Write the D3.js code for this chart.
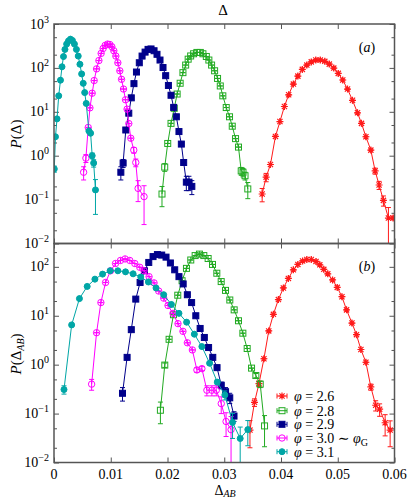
<!DOCTYPE html>
<html>
<head>
<meta charset="utf-8">
<script src="https://cdn.jsdelivr.net/npm/d3@7"></script>
<style>
body { margin: 0; background: #fff; }
svg text { font-family: "Liberation Serif", "DejaVu Serif", serif; fill: #000; }
</style>
</head>
<body>
<svg id="chart" width="415" height="498" font-family="Liberation Serif, DejaVu Serif, serif"></svg>
<script>
// tick values / labels
var xTicks = [0, 0.01, 0.02, 0.03, 0.04, 0.05, 0.06];
var xTickLabels = ["0", "0.01", "0.02", "0.03", "0.04", "0.05", "0.06"];
var yTicksA = [1e-2, 1e-1, 1e0, 1e1, 1e2, 1e3];
var yTicksB = [1e-2, 1e-1, 1e0, 1e1, 1e2];
var yExpA = ["−2", "−1", "0", "1", "2", "3"];
var yExpB = ["−2", "−1", "0", "1", "2"];
var phiLabels = ["2.6", "2.8", "2.9", "3.0", "3.1"];

// panel (a): P(Delta)   [Delta, P, error]
var a26 = [[0.03668,0.134,0.045],[0.03738,0.325,0.07],[0.03814,0.63,0],[0.03902,2.75,0],[0.03981,6.0,0],[0.04060,13.2,0],[0.04135,24.4,0],[0.04218,42.8,0],[0.04297,65,0],[0.04376,92.5,0],[0.04455,116,0],[0.04534,137,0],[0.04613,151,0],[0.04692,151,0],[0.04772,141,0],[0.04851,122,0],[0.04930,99,0],[0.05009,75,0],[0.05088,53,0],[0.05172,33,0],[0.05260,18.3,0],[0.05348,9.5,0],[0.05418,5.45,0],[0.05496,2.7,0],[0.05583,1.34,0],[0.05659,0.45,0.07],[0.05729,0.215,0.045],[0.05805,0.096,0.025],[0.05893,0.038,0.028],[0.05975,0.038,0]];
var a28 = [[0.01903,0.134,0.065],[0.01951,0.55,0.11],[0.02004,1.9,0],[0.02062,5.45,0],[0.02118,12.0,0],[0.02170,25.4,0],[0.02223,44.7,0],[0.02272,78,0],[0.02320,116,0],[0.02364,158,0],[0.02408,187,0],[0.02460,210,0],[0.02518,225,0],[0.02578,225,0],[0.02624,210,0],[0.02684,182,0],[0.02729,151,0],[0.02777,116,0],[0.02830,86,0],[0.02882,57.5,0],[0.02930,38.8,0],[0.02975,23.1,0],[0.03035,12.5,0],[0.03093,7.7,0],[0.03141,4.7,0],[0.03199,2.45,0],[0.03251,1.57,0],[0.03299,0.45,0.09],[0.03330,0.42,0.09],[0.03366,0.35,0.07],[0.03415,0.175,0.07]];
var a29 = [[0.01178,0.42,0.14],[0.01218,0.68,0.14],[0.01265,3.85,0],[0.01318,9.3,0],[0.01362,20.8,0],[0.01409,43.8,0],[0.01453,80.5,0],[0.01503,131,0],[0.01552,186,0],[0.01605,229,0],[0.01657,264,0],[0.01710,270,0],[0.01763,246,0],[0.01815,204,0],[0.01868,151,0],[0.01921,102,0],[0.01968,66.5,0],[0.02016,39.8,0],[0.02062,23.8,0],[0.02109,12.6,0],[0.02156,7.7,0],[0.02202,3.55,0],[0.02244,1.84,0],[0.02285,0.70,0.1],[0.02332,0.25,0.09],[0.02378,0.25,0.09],[0.02429,0.20,0.07]];
var a30 = [[0.00522,0.42,0.14],[0.00562,0.88,0.18],[0.00603,4.4,0],[0.00633,12.3,0],[0.00673,26.5,0],[0.00708,51.5,0],[0.00750,95,0],[0.00791,147,0],[0.00831,214,0],[0.00866,277,0],[0.00902,326,0],[0.00944,349,0],[0.00984,341,0],[0.01019,304,0],[0.01054,246,0],[0.01090,186,0],[0.01125,131,0],[0.01160,86,0],[0.01190,55,0],[0.01225,33,0],[0.01260,18.8,0],[0.01288,11.5,0],[0.01318,5.4,0],[0.01353,2.5,0],[0.01406,1.34,0.2],[0.01441,0.70,0.14],[0.01482,0.18,0.09],[0.01587,0.117,0.09]];
var a31 = [[0.00005,0.50,0.08],[0.00026,2.7,0],[0.00053,6.9,0],[0.00083,23.1,0],[0.00114,52.5,0],[0.00141,106,0],[0.00167,181,0],[0.00193,264,0],[0.00223,349,0],[0.00255,411,0],[0.00290,452,0],[0.00325,421,0],[0.00360,349,0],[0.00395,264,0],[0.00427,186,0],[0.00457,121,0],[0.00487,73,0],[0.00515,44.5,0],[0.00541,27.4,0],[0.00568,15.5,0],[0.00615,3.65,0],[0.00645,3.25,0],[0.00673,1.0,0.15],[0.00699,0.68,0.13],[0.00731,0.166,0.12]];

// panel (b): P(Delta_AB)   [Delta_AB, P, error]
var b26 = [[0.03453,0.046,0.026],[0.03533,0.17,0.03],[0.03612,0.41,0.05],[0.03699,1.32,0],[0.03784,4.9,0],[0.03866,10.7,0],[0.03954,21.4,0],[0.04042,37,0],[0.04130,58,0],[0.04218,87,0],[0.04297,112,0],[0.04381,132,0],[0.04455,141,0],[0.04534,141,0],[0.04617,129,0],[0.04684,110,0],[0.04754,89,0],[0.04824,72,0],[0.04909,54,0],[0.04991,38,0],[0.05074,24.5,0],[0.05155,13.2,0],[0.05250,7.1,0],[0.05330,4.1,0],[0.05408,2.04,0],[0.05496,1.12,0],[0.05583,0.35,0.05],[0.05668,0.148,0.035],[0.05738,0.123,0.035],[0.05835,0.065,0.03],[0.05923,0.046,0.025]];
var b28 = [[0.01875,0.117,0.055],[0.01952,0.98,0.1],[0.02028,3.3,0],[0.02105,10.5,0],[0.02181,26.3,0],[0.02257,52,0],[0.02334,93,0],[0.02410,138,0],[0.02487,170,0],[0.02563,182,0],[0.02640,170,0],[0.02716,148,0],[0.02793,112,0],[0.02869,74,0],[0.02946,50,0],[0.03022,33,0],[0.03098,21,0],[0.03175,13.2,0],[0.03251,7.9,0],[0.03328,4.4,0],[0.03404,2.14,0],[0.03481,0.85,0],[0.03557,0.60,0.06],[0.03634,0.40,0.06],[0.03710,0.056,0.035]];
var b29 = [[0.01207,0.26,0.08],[0.01288,1.41,0],[0.01362,5.2,0],[0.01441,21.9,0],[0.01517,47.9,0],[0.01594,83,0],[0.01670,123,0],[0.01745,162,0],[0.01822,178,0],[0.01898,174,0],[0.01974,158,0],[0.02051,120,0],[0.02127,87,0],[0.02202,63,0],[0.02276,44.7,0],[0.02350,26.9,0],[0.02425,18.6,0],[0.02499,10,0],[0.02575,5.5,0],[0.02649,3.6,0],[0.02724,2.24,0],[0.02798,1.41,0],[0.02873,0.87,0],[0.02947,0.38,0.06],[0.03023,0.28,0.06],[0.03097,0.21,0.05],[0.03172,0.089,0.02]];
var b30 = [[0.00663,0.40,0.1],[0.00750,4.5,0],[0.00826,18.6,0],[0.00909,47.9,0],[0.00996,83,0],[0.01084,117,0],[0.01172,135,0],[0.01253,145,0],[0.01336,135,0],[0.01424,117,0],[0.01511,98,0],[0.01587,83,0],[0.01675,63,0],[0.01763,47,0],[0.01845,32,0],[0.01933,22.9,0],[0.02009,16.2,0],[0.02097,11.2,0],[0.02185,6.9,0],[0.02272,4.8,0],[0.02350,2.8,0],[0.02438,2.0,0],[0.02518,0.78,0.08],[0.02606,0.83,0.08],[0.02694,0.30,0.07],[0.02782,0.30,0.07],[0.02859,0.30,0.07],[0.02947,0.16,0.06],[0.03032,0.069,0.035],[0.03120,0.047,0.04]];
var b31 = [[0.00176,0.31,0.06],[0.00311,6.5,0],[0.00448,22.4,0],[0.00585,39.8,0],[0.00721,56,0],[0.00856,71,0],[0.00989,83,0],[0.01125,83,0],[0.01260,79,0],[0.01394,72,0],[0.01529,62,0],[0.01664,49,0],[0.01798,37,0],[0.01933,26.9,0],[0.02069,17,0],[0.02202,11.2,0],[0.02337,7.4,0],[0.02473,4.2,0],[0.02606,2.34,0],[0.02742,1.07,0],[0.02877,0.44,0.05],[0.03011,0.24,0.05],[0.03146,0.066,0.035],[0.03281,0.031,0.022],[0.03415,0.047,0.025]];

var colors = ["#ff1a1a", "#22aa22", "#00008b", "#ff00ff", "#00a6a6"];
var shapes = ["star", "sqOpen", "sqFill", "circOpen", "circFill"];

var svg = d3.select("#chart");
var left = 54, right = 394.5;
var x = d3.scaleLinear().domain([0, 0.06]).range([left, right]);

function marker(sel, shape, color) {
    if (shape == "star") {
        sel.append("path")
            .attr("d", "M-3.5,0H3.5M0,-3.5V3.5M-2.6,-2.6L2.6,2.6M-2.6,2.6L2.6,-2.6")
            .attr("stroke", color).attr("stroke-width", 1.2).attr("fill", "none");
    } else if (shape == "sqOpen" || shape == "sqFill") {
        sel.append("rect").attr("x", -3).attr("y", -3).attr("width", 6).attr("height", 6)
            .attr("stroke", color).attr("stroke-width", 1)
            .attr("fill", shape == "sqFill" ? color : "none");
    } else {
        sel.append("circle").attr("r", shape == "circFill" ? 3 : 3.2)
            .attr("stroke", color).attr("stroke-width", 1)
            .attr("fill", shape == "circFill" ? color : "none");
    }
}

function panel(series, yMax, top, bottom, clipId, yTicks, yExp) {
    var y = d3.scaleLog().domain([0.01, yMax]).range([bottom, top]);

    svg.append("clipPath").attr("id", clipId)
        .append("rect").attr("x", left).attr("y", top)
        .attr("width", right - left).attr("height", bottom - top);

    // minor ticks at 2 and 5
    var minor = [];
    yTicks.forEach(function(t) {
        [2, 5].forEach(function(m) { if (t * m < yMax) minor.push(t * m); });
    });
    var tickColor = "#555";
    function clean(g) { g.select(".domain").remove(); g.selectAll("line").attr("stroke", tickColor); }

    svg.append("g").attr("transform", "translate(" + left + ",0)")
        .call(d3.axisLeft(y).tickValues(yTicks).tickSize(-5).tickFormat("")).call(clean);
    svg.append("g").attr("transform", "translate(" + left + ",0)")
        .call(d3.axisLeft(y).tickValues(minor).tickSize(-3).tickFormat("")).call(clean);
    svg.append("g").attr("transform", "translate(" + right + ",0)")
        .call(d3.axisRight(y).tickValues(yTicks).tickSize(-5).tickFormat("")).call(clean);
    svg.append("g").attr("transform", "translate(" + right + ",0)")
        .call(d3.axisRight(y).tickValues(minor).tickSize(-3).tickFormat("")).call(clean);
    svg.append("g").attr("transform", "translate(0," + bottom + ")")
        .call(d3.axisBottom(x).tickValues(xTicks).tickSize(-5).tickFormat("")).call(clean);
    svg.append("g").attr("transform", "translate(0," + top + ")")
        .call(d3.axisTop(x).tickValues(xTicks).tickSize(-5).tickFormat("")).call(clean);

    // 10^n labels
    yTicks.forEach(function(t, i) {
        var tx = svg.append("text").attr("x", 49).attr("y", y(t) + 4.5)
            .attr("text-anchor", "end").style("font-size", "14px");
        tx.append("tspan").text("10");
        tx.append("tspan").attr("dy", -6).style("font-size", "10px").text(yExp[i]);
    });

    var line = d3.line().x(function(d) { return x(d[0]); }).y(function(d) { return y(d[1]); });

    var plot = svg.append("g").attr("clip-path", "url(#" + clipId + ")");
    series.forEach(function(s, k) {
        var c = colors[k];
        plot.append("path").datum(s).attr("d", line)
            .attr("fill", "none").attr("stroke", c).attr("stroke-width", 1);

        // error bars
        var eb = plot.append("g").attr("stroke", c).attr("stroke-width", 1);
        s.forEach(function(d) {
            var cx = x(d[0]), cy = y(d[1]);
            var hi = y(d[1] + d[2]);
            var lo = d[1] - d[2] > 0 ? y(d[1] - d[2]) : bottom + 10;
            eb.append("line").attr("x1", cx).attr("x2", cx)
                .attr("y1", Math.min(hi, cy - 3)).attr("y2", Math.max(lo, cy + 3));
            eb.append("line").attr("x1", cx - 2.5).attr("x2", cx + 2.5).attr("y1", hi).attr("y2", hi);
            eb.append("line").attr("x1", cx - 2.5).attr("x2", cx + 2.5).attr("y1", lo).attr("y2", lo);
        });

        plot.append("g").selectAll("g").data(s).enter().append("g")
            .attr("transform", function(d) { return "translate(" + x(d[0]) + "," + y(d[1]) + ")"; })
            .each(function() { marker(d3.select(this), shapes[k], c); });
    });

    svg.append("rect").attr("x", left).attr("y", top)
        .attr("width", right - left).attr("height", bottom - top)
        .attr("fill", "none").attr("stroke", "#555").attr("stroke-width", 1.5);
    return y;
}

panel([a26, a28, a29, a30, a31], 1000, 24, 243.5, "clipA", yTicksA, yExpA);
panel([b26, b28, b29, b30, b31], 300, 243.5, 462.5, "clipB", yTicksB, yExpB);

// x tick labels
svg.selectAll(".xl").data(xTicks).enter().append("text")
    .attr("x", function(d) { return x(d); }).attr("y", 479)
    .attr("text-anchor", "middle").style("font-size", "14px")
    .text(function(d, i) { return xTickLabels[i]; });

// titles
svg.append("text").attr("x", 223).attr("y", 15).attr("text-anchor", "middle")
    .style("font-size", "15px").text("Δ");

var xl = svg.append("text").attr("x", 225).attr("y", 495).attr("text-anchor", "middle").style("font-size", "14px");
xl.append("tspan").text("Δ");
xl.append("tspan").attr("dy", 2).style("font-size", "10px").style("font-style", "italic").text("AB");

var yl1 = svg.append("text").attr("transform", "translate(21,134) rotate(-90)")
    .attr("text-anchor", "middle").style("font-size", "15px");
yl1.append("tspan").style("font-style", "italic").text("P");
yl1.append("tspan").text("(Δ)");

var yl2 = svg.append("text").attr("transform", "translate(21,354) rotate(-90)")
    .attr("text-anchor", "middle").style("font-size", "15px");
yl2.append("tspan").style("font-style", "italic").text("P");
yl2.append("tspan").text("(Δ");
yl2.append("tspan").attr("dy", 3).style("font-size", "10px").style("font-style", "italic").text("AB");
yl2.append("tspan").attr("dy", -3).text(")");

// panel tags
var ta = svg.append("text").attr("x", 367).attr("y", 52).attr("text-anchor", "middle").style("font-size", "14px");
ta.append("tspan").text("(");
ta.append("tspan").style("font-style", "italic").text("a");
ta.append("tspan").text(")");
var tb = svg.append("text").attr("x", 367).attr("y", 271).attr("text-anchor", "middle").style("font-size", "14px");
tb.append("tspan").text("(");
tb.append("tspan").style("font-style", "italic").text("b");
tb.append("tspan").text(")");

// legend
var legY = [396, 410.7, 424.3, 438, 451.7];
phiLabels.forEach(function(p, k) {
    var g = svg.append("g").attr("transform", "translate(282," + legY[k] + ")");
    g.append("line").attr("x1", -5).attr("x2", 5).attr("stroke", colors[k]);
    g.append("line").attr("x1", -5).attr("x2", -5).attr("y1", -2.5).attr("y2", 2.5).attr("stroke", colors[k]);
    g.append("line").attr("x1", 5).attr("x2", 5).attr("y1", -2.5).attr("y2", 2.5).attr("stroke", colors[k]);
    marker(g, shapes[k], colors[k]);
    var t = svg.append("text").attr("x", 294).attr("y", legY[k] + 5).style("font-size", "14px");
    t.append("tspan").style("font-style", "italic").text("φ");
    t.append("tspan").text(" = " + p);
    if (k == 3) {
        t.append("tspan").text(" ∼ ");
        t.append("tspan").style("font-style", "italic").text("φ");
        t.append("tspan").attr("dy", 3).style("font-size", "10px").text("G");
    }
});
</script>
</body>
</html>
